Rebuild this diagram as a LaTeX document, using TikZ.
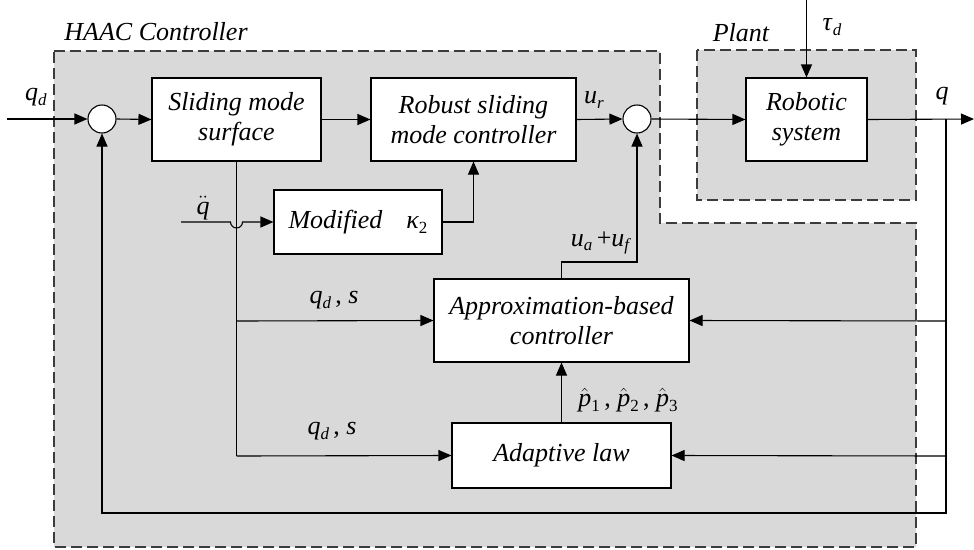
\documentclass[tikz,border=0pt]{standalone}
\usepackage{fontspec}
\setmainfont{LiberationSerif}[Extension=.ttf, UprightFont=*-Regular, ItalicFont=*-Italic, BoldFont=*-Bold, BoldItalicFont=*-BoldItalic]
\usetikzlibrary{arrows.meta}

\definecolor{panel}{HTML}{D9D9D9}
\definecolor{edge}{HTML}{3C3C3C}

% italic symbols set in the text font
\newcommand{\sy}[1]{\textit{#1}}
\newcommand{\sub}[1]{\raisebox{-0.4ex}{\fontsize{17}{17}\selectfont\textit{#1}}}
\newcommand{\hatp}[1]{$\hat{\hbox{\itshape p}}$\sub{\upshape #1}}
\newcommand{\ddq}{$\ddot{\hbox{\itshape q}}$}

\tikzset{
  blk/.style={draw=black, fill=white, line width=1.1pt, align=center,
    inner sep=0pt, font=\fontsize{26}{30}\selectfont\itshape},
  sumpt/.style={draw=black, fill=white, circle, line width=1.1pt,
    minimum size=28pt, inner sep=0pt},
  wire/.style={line width=1.1pt},
  arr/.style={wire, -{Triangle[length=13pt,width=11pt]}},
  zone/.style={fill=panel, draw=edge, line width=1.3pt,
    dash pattern=on 11pt off 5pt},
  lbl/.style={font=\fontsize{26}{28}\selectfont, inner sep=0pt},
}

\begin{document}
\begin{tikzpicture}[x=1pt, y=-1pt]
\useasboundingbox (0,0) rectangle (974,549);

% controller and plant regions
\draw[zone] (54,51) -- (660,51) -- (660,223) -- (916,223) -- (916,547) -- (54,547) -- cycle;
\draw[zone] (697,50) rectangle (916,200);
\node[lbl, font=\fontsize{26}{28}\selectfont\itshape] (haac) at (156,32) {HAAC Controller};
\node[lbl, font=\fontsize{26}{28}\selectfont\itshape] (plantlbl) at (741,33) {Plant};

% blocks
\node[blk, minimum width=169pt, minimum height=83pt] (sms) at (236.5,119.5) {Sliding mode\\surface};
\node[blk, minimum width=205pt, minimum height=83pt] (rsmc) at (473.5,119.5) {Robust sliding\\mode controller};
\node[blk, minimum width=121pt, minimum height=83pt] (robot) at (806.5,119.5) {Robotic\\system};
\node[blk, minimum width=168pt, minimum height=64pt] (modk) at (358,222) {Modified\hspace{24pt}κ\sub{\upshape 2}};
\node[blk, minimum width=255pt, minimum height=83pt] (abc) at (561.5,320.5) {Approximation-based\\controller};
\node[blk, minimum width=219pt, minimum height=65pt] (adapt) at (561.5,455.5) {Adaptive law};

% summing junctions
\node[sumpt] (s1) at (102,119) {};
\node[sumpt] (s2) at (637,119) {};

% free ends and corners
\coordinate (qin) at (7,119);
\coordinate (qout) at (974,119);
\coordinate (taud) at (806.5,0);
\coordinate (qddin) at (181,222);
\coordinate (fbtop) at (946,119);
\coordinate (fbbot) at (946,513);
\coordinate (fbleft) at (102,513);
\coordinate (tapA) at (236.5,321);
\coordinate (tapB) at (236.5,456);
\coordinate (fbA) at (946,321);
\coordinate (fbB) at (946,456);

% forward path
\draw[arr] (qin) -- (s1.west);
\draw[arr] (s1.east) -- (sms.west);
\draw[arr] (sms.east) -- (rsmc.west);
\draw[arr] (rsmc.east) -- (s2.west);
\draw[arr] (s2.east) -- (robot.west);
\draw[arr] (robot.east) -- (qout);
\draw[arr] (taud) -- (robot.north);

% gain modification branch, hopping over the vertical wire
\draw[arr] (qddin) -- (230.5,222) arc[start angle=180, end angle=0, radius=6] -- (modk.west);
\draw[arr] (modk.east) -| (rsmc.south);

% sliding variable taps
\draw[wire] (sms.south) -- (tapB);
\draw[arr] (tapA) -- (abc.west);
\draw[arr] (tapB) -- (adapt.west);

% approximation output to the second junction
\draw[arr] (abc.north) -- (561.5,262) -- (637,262) -- (s2.south);
\draw[arr] (adapt.north) -- (abc.south);

% state feedback
\draw[arr] (fbtop) -- (fbbot) -- (fbleft) -- (s1.south);
\draw[arr] (fbA) -- (abc.east);
\draw[arr] (fbB) -- (adapt.east);

% signal labels
\node[lbl] (lqd) at (36,97) {\sy{q}\sub{d}};
\node[lbl] (lur) at (594,100) {\sy{u}\sub{r}};
\node[lbl] (lq) at (942,96) {\sy{q}};
\node[lbl] (ltau) at (832,27) {\sy{τ}\sub{d}};
\node[lbl] (lqdd) at (203,208) {\ddq};
\node[lbl] (luaf) at (601,243) {\sy{u}\sub{a}\,+\sy{u}\sub{f}};
\node[lbl] (lp) at (628,400) {\hatp{1}\,, \hatp{2}\,, \hatp{3}};
\node[lbl] (lqs1) at (334,300) {\sy{q}\sub{d}\,, \sy{s}};
\node[lbl] (lqs2) at (332,431) {\sy{q}\sub{d}\,, \sy{s}};
\end{tikzpicture}
\end{document}
